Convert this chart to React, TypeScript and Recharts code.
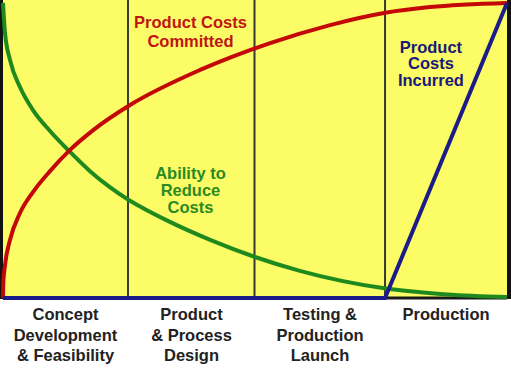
import React from 'react'
import { LineChart, Line, XAxis, YAxis, ReferenceLine, ReferenceDot } from 'recharts'

// phase boundaries and centres on a 0-100 time scale
const stageBounds = [24.8, 49.9, 75.8]
const stageCenters = [12.4, 37.4, 62.9, 87.9]
const stageLabels = [
  ['Concept', 'Development', '& Feasibility'],
  ['Product', '& Process', 'Design'],
  ['Testing &', 'Production', 'Launch'],
  ['Production'],
]

// Product Costs Committed (red)
const committedX = [0, 0.06, 0.4, 1.39, 3.37, 5.95, 9.33, 13.3, 17.9, 25.2, 39.1, 53, 64.9, 75.6, 84.7, 100]
const committedY = [0, 5.1, 11.2, 19.7, 28.8, 35.9, 43.0, 50.2, 56.9, 65.4, 77.3, 86.4, 92.5, 96.6, 98.6, 100]

// Ability to Reduce Costs (green)
const abilityX = [0, 0.4, 1.39, 3.37, 5.95, 9.33, 13.3, 17.26, 21.2, 24.8, 27.2, 32.5, 41.1, 50, 58.9, 76, 88.1, 100]
const abilityY = [100, 89.8, 80.7, 71.5, 63.7, 56.6, 49.5, 43.0, 37.6, 33.4, 31.0, 26.3, 19.7, 13.9, 9.2, 3.2, 1.2, 0.3]

// Product Costs Incurred (blue)
const incurredX = [0, 75.8, 100]
const incurredY = [0, 0, 100]

const toPoints = (xs: number[], ys: number[]) => xs.map((x, i) => ({ x, y: ys[i] }))

const committed = toPoints(committedX, committedY)
const ability = toPoints(abilityX, abilityY)
const incurred = toPoints(incurredX, incurredY)

const FONT = '"Liberation Sans", Arial, sans-serif'

function StageTick(props: any) {
  const { x, y, payload } = props
  const idx = stageCenters.indexOf(payload.value)
  const lines = stageLabels[idx] || []
  return (
    <text textAnchor="middle" fill="#222" fontFamily={FONT} fontWeight="bold" fontSize={16.5}>
      {lines.map((l, i) => (
        <tspan key={i} x={x} y={y + 20 + i * 20.5}>{l}</tspan>
      ))}
    </text>
  )
}

function Note(props: any) {
  const { viewBox, lines, color, lh } = props
  const cx = viewBox.x + viewBox.width / 2
  const cy = viewBox.y + viewBox.height / 2
  const n = lines.length
  return (
    <text textAnchor="middle" fill={color} fontFamily={FONT} fontWeight="bold" fontSize={16.5}>
      {lines.map((l: string, i: number) => (
        <tspan key={i} x={cx} y={cy + (i - (n - 1) / 2) * lh + 6}>{l}</tspan>
      ))}
    </text>
  )
}

export default function App() {
  return (
    <div style={{ position: 'absolute', left: 0, top: 0, width: 511, height: 374, background: '#fff' }}>
      <div
        style={{
          position: 'absolute',
          left: 0,
          top: 0,
          width: 504,
          height: 299,
          background: '#fcfc66',
          borderLeft: '3px solid #111',
          borderRight: '4px solid #111',
        }}
      />
      <div style={{ position: 'absolute', left: 0, top: 0 }}>
        <LineChart width={511} height={374} margin={{ top: 0, right: 4, left: 3, bottom: 0 }}>
          <XAxis
            type="number"
            dataKey="x"
            domain={[0, 100]}
            ticks={stageCenters}
            tick={<StageTick />}
            axisLine={false}
            tickLine={false}
            tickSize={0}
            height={76}
            interval={0}
          />
          <YAxis type="number" dataKey="y" domain={[0, 101]} hide />
          <ReferenceLine y={0} stroke="#1a1a1a" strokeWidth={3} />
          {stageBounds.map((b) => (
            <ReferenceLine key={b} x={b} stroke="#383838" strokeWidth={2} />
          ))}
          <Line
            data={ability}
            dataKey="y"
            type="monotone"
            stroke="#1e8a1e"
            strokeWidth={4}
            dot={false}
            isAnimationActive={false}
          />
          <Line
            data={committed}
            dataKey="y"
            type="monotone"
            stroke="#c40808"
            strokeWidth={4}
            dot={false}
            isAnimationActive={false}
          />
          <Line
            data={incurred}
            dataKey="y"
            type="linear"
            stroke="#1c1c88"
            strokeWidth={4}
            dot={false}
            isAnimationActive={false}
          />
          <ReferenceDot
            x={37.2}
            y={90.2}
            r={0}
            fill="none"
            stroke="none"
            label={<Note lines={['Product Costs', 'Committed']} color="#bf1414" lh={19} />}
          />
          <ReferenceDot
            x={37.2}
            y={36.6}
            r={0}
            fill="none"
            stroke="none"
            label={<Note lines={['Ability to', 'Reduce', 'Costs']} color="#2a8a22" lh={17} />}
          />
          <ReferenceDot
            x={84.9}
            y={79.5}
            r={0}
            fill="none"
            stroke="none"
            label={<Note lines={['Product', 'Costs', 'Incurred']} color="#1a1a78" lh={16.5} />}
          />
        </LineChart>
      </div>
    </div>
  )
}
